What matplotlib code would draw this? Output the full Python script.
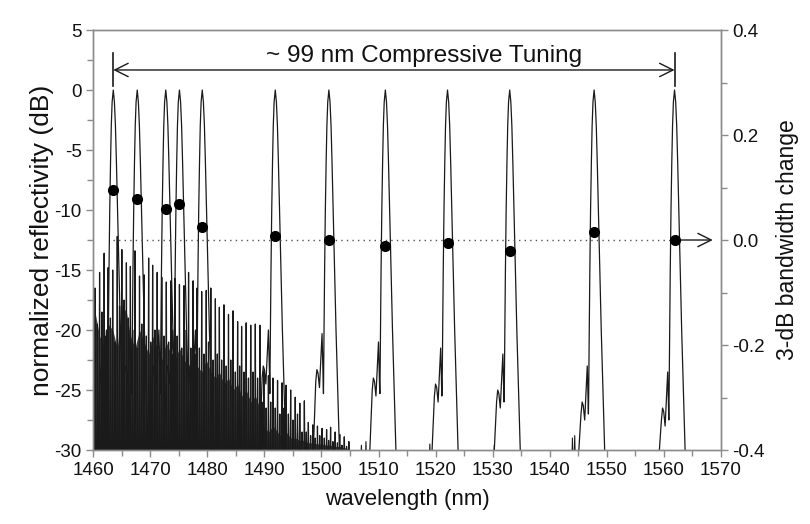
import matplotlib
matplotlib.use("Agg")
import matplotlib.pyplot as plt
from matplotlib.ticker import MultipleLocator, FormatStrFormatter

plt.rcParams['font.family'] = ['Liberation Sans', 'DejaVu Sans']
plt.rcParams['axes.unicode_minus'] = False

# ---------------- data ----------------
peak_centers = [1463.5, 1467.7, 1472.7, 1475.1, 1479.1, 1491.9, 1501.3,
                1511.2, 1522.1, 1533.0, 1547.8, 1561.9]
bw_change = [0.095, 0.079, 0.060, 0.068, 0.025, 0.008, 0.0,
             -0.011, -0.006, -0.020, 0.015, 0.0]
shoulder_db = [-20.0, -20.0, -20.0, -20.0, -20.0, -20.0, -20.3,
               -21.0, -21.5, -22.0, -23.0, -23.5]

# single-grating profile (offset nm, dB)
left_offset = [-2.8, -2.3, -2.1, -1.9, -1.65, -1.35, -1.2, -1.0, -0.95,
               -0.85, -0.75, -0.62, -0.48, -0.35, -0.2, 0.0]
left_db = [-31.0, -25.0, -24.0, -24.3, -25.5, -22.5, -21.0, -25.0, -25.3,
           -20.0, -15.0, -10.0, -6.0, -3.0, -1.0, 0.0]
shoulder_idx = [1, 2, 3, 4, 5, 6, 7]
right_offset = [0.2, 0.38, 0.55, 0.75, 1.0, 1.25, 1.55, 1.85, 1.95]
right_db = [-1.0, -3.0, -6.0, -10.0, -15.0, -20.0, -25.0, -30.0, -31.0]

# noise floor spikes (nm, dB)
spike_pos = [1460.3, 1461.1, 1461.9, 1462.6, 1463.4, 1464.2, 1465.0, 1465.8,
             1466.5, 1467.3, 1468.1, 1468.9, 1469.7, 1470.4, 1471.2, 1472.0,
             1472.8, 1473.6, 1474.3, 1475.1, 1475.9, 1476.7, 1477.5, 1478.2,
             1479.0, 1479.8, 1480.6, 1481.4, 1482.1, 1482.9, 1483.7, 1484.5,
             1485.3, 1486.0, 1486.8, 1487.6, 1488.4, 1489.2, 1489.9, 1490.7,
             1491.5, 1492.3, 1493.1, 1493.8, 1494.6, 1495.4, 1496.2, 1497.0,
             1497.7, 1498.5, 1499.3, 1500.1, 1500.9, 1501.6, 1502.4, 1503.2,
             1504.0, 1504.8]
spike_db = [-16.5, -15.2, -13.6, -14.8, -15.0, -12.2, -13.3, -14.4,
            -14.7, -13.4, -15.5, -15.4, -14.0, -14.6, -15.2, -15.6,
            -16.0, -15.9, -15.7, -16.2, -16.3, -15.2, -15.9, -16.5,
            -16.8, -16.7, -16.5, -17.4, -18.1, -17.9, -18.7, -18.4,
            -19.3, -19.7, -19.4, -19.6, -19.5, -19.6, -23.4, -23.8,
            -24.0, -24.2, -24.4, -24.6, -25.0, -25.6, -26.1, -25.9,
            -27.7, -27.9, -28.0, -28.2, -28.3, -28.1, -28.5, -28.7,
            -28.9, -29.3]
mid_db = [-19.5, -18.5, -20.5, -19.0, -21.0, -18.0, -17.5, -19.0, -20.0,
          -21.5, -19.5, -20.5, -21.0, -20.0, -21.5, -20.5, -21.0, -22.0,
          -20.5, -21.5, -20.0, -21.5, -22.0, -21.5, -22.0, -21.0, -22.5,
          -22.0, -22.5, -23.0, -22.5, -23.5, -23.0, -23.5, -24.0, -23.5,
          -24.0, -26.0, -26.5, -26.0, -26.5, -27.0, -26.5, -27.0, -27.5,
          -27.0, -28.5, -28.5, -28.8, -29.0, -28.8, -29.0, -29.2, -29.3,
          -29.4, -29.6, -29.7]
floor_db = [-18.5, -20.5, -21.5, -19.5, -20.0, -21.5, -18.0, -18.5,
            -20.5, -21.5, -20.0, -21.0, -22.0, -20.5, -21.5, -22.5,
            -21.0, -22.0, -22.5, -21.5, -22.5, -23.0, -22.0, -23.0,
            -23.5, -22.5, -23.5, -24.0, -23.5, -24.5, -24.0, -25.0,
            -24.5, -25.5, -25.0, -26.0, -25.5, -26.5, -28.0, -28.5,
            -28.0, -28.5, -29.0, -28.5, -29.0, -29.0, -29.2, -29.2,
            -29.4, -29.4, -29.5, -29.5, -29.6, -29.6, -29.7, -29.7,
            -29.8, -29.9]
stray_pos = [1507.0, 1507.8, 1519.0, 1530.3, 1544.0, 1544.4]
stray_db = [-29.6, -29.3, -29.5, -29.6, -29.0, -28.8]

x_ticks = [1460, 1470, 1480, 1490, 1500, 1510, 1520, 1530, 1540, 1550, 1560, 1570]
annot_text = "~ 99 nm Compressive Tuning"

# ---------------- figure ----------------
fig = plt.figure(figsize=(8.10, 5.24), dpi=100)
ax = fig.add_axes([0.1152, 0.1412, 0.7746, 0.8015])
ax2 = ax.twinx()

line_col = '#1a1a1a'
spine_col = '#8c8c8c'

# dense unresolved noise floor
ax.fill_between([1460.0] + spike_pos, -31, [floor_db[0]] + floor_db,
                color='#444444', lw=0)

# noise spikes
nx, ny = [1460.0], [-17.0]
for i, (p, h) in enumerate(zip(spike_pos, spike_db)):
    nx += [p - 0.1, p, p + 0.1]
    ny += [-31, h, -31]
    if i < len(mid_db) and i + 1 < len(spike_pos):
        m = 0.5 * (p + spike_pos[i + 1])
        nx += [m - 0.1, m, m + 0.1]
        ny += [-31, mid_db[i], -31]
ax.plot(nx, ny, color=line_col, lw=0.9)
for p, h in zip(stray_pos, stray_db):
    ax.plot([p - 0.1, p, p + 0.1], [-31, h, -31], color=line_col, lw=0.8)

# grating peaks
for c, sh in zip(peak_centers, shoulder_db):
    ldb = list(left_db)
    for k in shoulder_idx:
        ldb[k] = left_db[k] + (sh - (-21.0))
    xs = [c + o for o in left_offset] + [c + o for o in right_offset]
    ys = ldb + right_db
    ax.plot(xs, ys, color=line_col, lw=0.9)

ax.set_xlim(1460, 1570)
ax.set_ylim(-30, 5)
ax2.set_ylim(-0.4, 0.4)

# bandwidth change points
ax2.plot([peak_centers[0], peak_centers[-1]], [0, 0], color='#555555',
         lw=1.0, ls=(0, (1, 3)))
ax2.plot(peak_centers, bw_change, 'o', color='black', ms=7, zorder=5)
ax2.annotate('', xy=(1568.6, 0), xytext=(peak_centers[-1], 0),
             arrowprops=dict(arrowstyle='->', color=line_col, lw=1.0,
                             mutation_scale=24, shrinkA=0, shrinkB=0))

# tuning range arrow
ax.annotate('', xy=(peak_centers[0], 1.67), xytext=(peak_centers[-1], 1.67),
            arrowprops=dict(arrowstyle='<->', color=line_col, lw=1.0,
                            mutation_scale=24, shrinkA=0, shrinkB=0))
for c in (peak_centers[0], peak_centers[-1]):
    ax.plot([c, c], [0.3, 3.1], color=line_col, lw=1.2)
ax.text(1518.0, 2.35, annot_text,
        ha='center', va='baseline', fontsize=17.5, color='#111111')

# axes styling
for a in (ax, ax2):
    for s in a.spines.values():
        s.set_color(spine_col)
        s.set_linewidth(1.0)
ax.set_xticks(x_ticks)
ax.xaxis.set_minor_locator(MultipleLocator(5))
ax.yaxis.set_major_locator(MultipleLocator(5))
ax.yaxis.set_minor_locator(MultipleLocator(2.5))
ax2.yaxis.set_major_locator(MultipleLocator(0.2))
ax2.yaxis.set_minor_locator(MultipleLocator(0.1))
ax2.yaxis.set_major_formatter(FormatStrFormatter('%.1f'))
for a in (ax, ax2):
    a.tick_params(which='both', direction='out', color=spine_col, width=1.0,
                  labelsize=13.5, labelcolor='#111111')
    a.tick_params(which='major', length=5)
    a.tick_params(which='minor', length=4)

ax.set_xlabel('wavelength (nm)', fontsize=16, labelpad=7, color='#111111')
ax.set_ylabel('normalized reflectivity (dB)', fontsize=19, labelpad=0, color='#111111')
ax2.set_ylabel('3-dB bandwidth change', fontsize=16.5, labelpad=8, color='#111111')

fig.savefig('out.png', dpi=100)
